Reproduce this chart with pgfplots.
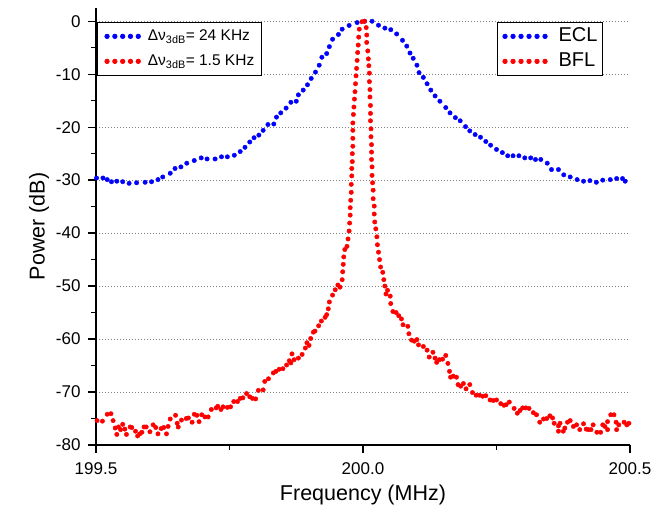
\documentclass[border=0pt]{standalone}
\usepackage{pgfplots}
\pgfplotsset{compat=1.18}
\usepackage{fontspec}
\setmainfont{Liberation Sans}

\pgfplotstableread{
x y
199.501 -29.6
199.513 -29.6
199.521 -29.9
199.529 -30.3
199.539 -30.2
199.550 -30.3
199.562 -30.6
199.576 -30.5
199.592 -30.4
199.604 -30.3
199.616 -29.9
199.625 -29.4
199.639 -28.7
199.648 -27.8
199.659 -27.5
199.670 -26.8
199.684 -26.3
199.697 -25.8
199.708 -26.0
199.723 -26.0
199.735 -25.6
199.746 -25.6
199.759 -25.3
199.770 -24.6
199.779 -23.8
199.788 -22.8
199.796 -22.0
199.805 -21.5
199.813 -20.6
199.822 -19.5
199.833 -19.4
199.838 -18.1
199.846 -17.3
199.856 -16.4
199.865 -15.3
199.875 -15.1
199.879 -13.9
199.888 -13.0
199.896 -12.0
199.903 -10.8
199.911 -9.6
199.918 -8.3
199.923 -6.8
199.932 -6.1
199.937 -4.8
199.943 -3.4
199.954 -2.5
199.961 -1.5
199.974 -0.8
199.989 -0.25
200.003 0
200.017 0
200.029 -0.75
200.041 -1.3
200.052 -1.6
200.063 -2.4
200.074 -3.6
200.082 -4.7
200.088 -6.0
200.094 -7.0
200.101 -8.3
200.105 -9.7
200.113 -10.6
200.120 -11.8
200.127 -13.0
200.135 -14.1
200.144 -15.1
200.155 -16.3
200.163 -17.3
200.173 -18.2
200.182 -18.8
200.192 -19.9
200.200 -20.7
200.210 -21.4
200.220 -21.9
200.230 -22.7
200.239 -23.4
200.250 -24.2
200.261 -24.8
200.271 -25.4
200.281 -25.4
200.292 -25.4
200.303 -25.8
200.314 -25.8
200.323 -26.1
200.333 -26.1
200.345 -26.8
200.353 -28.0
200.366 -28.0
200.376 -29.0
200.388 -29.4
200.401 -29.9
200.413 -30.2
200.425 -30.1
200.437 -30.4
200.449 -30.0
200.463 -29.9
200.475 -29.7
200.486 -29.7
200.491 -30.2
}\ecl

\pgfplotstableread{
x y
199.502 -75.4
199.512 -75.5
199.521 -74.2
199.528 -74.1
199.532 -75.4
199.536 -76.8
199.539 -78.0
199.542 -76.6
199.546 -77.1
199.550 -76.1
199.554 -77.0
199.557 -78.0
199.564 -76.6
199.567 -76.7
199.574 -77.4
199.578 -78.3
199.582 -77.9
199.586 -77.6
199.590 -76.6
199.594 -76.6
199.601 -77.5
199.607 -76.2
199.612 -76.7
199.616 -77.9
199.622 -76.9
199.627 -76.7
199.632 -77.9
199.635 -76.5
199.639 -75.1
199.649 -74.4
199.652 -75.9
199.654 -76.6
199.660 -75.3
199.669 -75.0
199.673 -74.9
199.680 -75.7
199.684 -74.2
199.689 -74.4
199.693 -75.6
199.698 -74.3
199.704 -74.7
199.710 -74.7
199.716 -73.3
199.725 -73.0
199.728 -72.7
199.734 -73.3
199.738 -72.8
199.746 -72.9
199.752 -72.8
199.758 -71.8
199.765 -71.8
199.770 -71.2
199.775 -71.1
199.782 -70.3
199.788 -70.9
199.793 -71.2
199.799 -71.3
199.804 -69.7
199.813 -69.6
199.816 -68.0
199.823 -67.5
199.832 -66.4
199.837 -66.1
199.843 -65.7
199.850 -65.6
199.857 -64.9
199.862 -64.1
199.865 -64.5
199.867 -62.8
199.871 -63.9
199.879 -63.6
199.886 -62.9
199.892 -61.7
199.895 -60.7
199.899 -61.2
199.902 -59.9
199.907 -58.7
199.910 -58.5
199.917 -57.5
199.922 -56.6
199.929 -55.9
199.932 -55.4
199.935 -54.3
199.937 -53.0
199.943 -51.7
199.948 -50.7
199.953 -49.8
199.957 -50.2
199.961 -48.8
199.962 -47.3
199.963 -45.9
199.964 -44.5
199.966 -43.1
199.970 -42.5
199.972 -41.1
199.974 -39.6
199.975 -38.1
199.976 -36.6
199.976 -35.2
199.977 -33.8
199.978 -32.3
199.978 -30.8
199.979 -29.2
199.979 -27.8
199.980 -26.5
199.980 -25.0
199.981 -23.6
199.981 -22.1
199.981 -20.6
199.981 -19.2
199.982 -17.6
199.983 -16.2
199.984 -14.7
199.985 -13.3
199.986 -11.8
199.987 -10.3
199.988 -8.9
199.989 -7.4
199.990 -5.9
199.991 -4.5
199.992 -3.0
199.993 -1.5
199.998 -0.1
200.003 0
200.006 -1.2
200.007 -2.6
200.007 -4.0
200.009 -5.6
200.010 -7.1
200.011 -8.4
200.012 -9.8
200.012 -11.4
200.013 -12.9
200.013 -14.3
200.014 -15.9
200.014 -17.4
200.014 -18.8
200.015 -20.3
200.015 -21.8
200.016 -23.3
200.016 -24.7
200.016 -26.1
200.017 -27.5
200.017 -29.1
200.018 -30.5
200.019 -31.9
200.019 -33.5
200.021 -34.9
200.021 -36.4
200.022 -37.9
200.024 -39.2
200.026 -40.7
200.027 -42.2
200.029 -43.6
200.031 -45.0
200.033 -46.4
200.037 -47.4
200.039 -48.8
200.041 -50.0
200.046 -50.8
200.043 -51.5
200.051 -51.9
200.052 -53.3
200.056 -54.8
200.062 -55.0
200.067 -55.6
200.072 -56.2
200.075 -57.3
200.084 -57.6
200.086 -59.0
200.091 -60.2
200.096 -60.4
200.101 -60.1
200.104 -61.1
200.113 -61.4
200.120 -62.1
200.124 -63.4
200.131 -62.5
200.135 -63.6
200.138 -64.4
200.143 -63.9
200.149 -63.8
200.155 -63.1
200.159 -64.6
200.162 -66.1
200.164 -67.2
200.169 -67.0
200.175 -67.2
200.178 -68.6
200.183 -68.9
200.188 -68.4
200.193 -69.4
200.200 -68.6
200.205 -70.1
200.212 -70.6
200.218 -70.6
200.224 -70.8
200.230 -70.7
200.238 -71.5
200.244 -71.6
200.250 -71.5
200.258 -72.2
200.264 -72.5
200.268 -72.4
200.274 -71.9
200.283 -73.1
200.289 -74.0
200.294 -73.5
200.299 -73.0
200.305 -73.0
200.311 -73.1
200.319 -73.9
200.325 -74.3
200.331 -75.7
200.338 -75.1
200.344 -75.0
200.350 -74.5
200.355 -74.9
200.358 -75.9
200.366 -76.4
200.369 -75.9
200.366 -77.4
200.375 -77.4
200.378 -76.8
200.383 -75.7
200.388 -75.4
200.394 -76.5
200.400 -76.2
200.406 -77.1
200.413 -76.0
200.418 -77.0
200.422 -77.1
200.427 -77.1
200.431 -76.2
200.438 -77.6
200.445 -77.6
200.449 -76.2
200.453 -76.5
200.458 -77.1
200.458 -75.6
200.464 -74.3
200.470 -74.3
200.474 -75.7
200.475 -77.1
200.479 -76.2
200.489 -75.7
200.494 -76.2
200.498 -75.9
}\bfl

\pgfplotsset{
  dotsix/.style={legend image code/.code={
    \foreach \k in {0,...,5} {\fill (\k*8pt,0pt) circle (2.2pt);}}},
  dotfive/.style={legend image code/.code={
    \foreach \k in {0,...,4} {\fill (\k*7.8pt,0pt) circle (2.2pt);}}},
  base/.style={
    width=534pt, height=437pt, scale only axis,
    xmin=199.5, xmax=200.5, ymin=-80, ymax=2.5,
  },
}

\begin{document}
\begin{tikzpicture}
\begin{axis}[
  base,
  axis x line*=bottom, axis y line*=left,
  axis line style={line width=1.3pt},
  tick align=outside,
  major tick length=8pt, minor tick length=5pt,
  tick style={line width=1.3pt, black},
  xtick={199.5,200,200.5}, xticklabels={199.5,200.0,200.5},
  minor xtick={199.75,200.25},
  ytick={-80,-70,-60,-50,-40,-30,-20,-10,0},
  yticklabels={-80,-70,-60,-50,-40,-30,-20,-10,0},
  minor ytick={-75,-65,-55,-45,-35,-25,-15,-5},
  ymajorgrids,
  major grid style={gray, line width=1pt, dash pattern=on 1pt off 2pt},
  ticklabel style={font=\fontsize{17}{20}\selectfont},
  xticklabel style={yshift=-6pt},
  yticklabel style={xshift=-4pt},
  xlabel={Frequency (MHz)}, ylabel={Power (dB)},
  label style={font=\fontsize{21.5}{25}\selectfont},
  xlabel style={yshift=-4pt},
  legend cell align=left,
  legend style={at={(0.751,0.968)}, anchor=north west,
    draw=black, line width=0.8pt,
    font=\fontsize{20}{24}\selectfont,
    nodes={inner sep=0pt, text height=14pt, text depth=4pt},
    column sep=11pt, row sep=7pt,
    inner xsep=5pt, inner ysep=5pt},
]
\addplot[only marks, blue, mark=*, mark size=2.2pt, dotsix] table {\ecl};
\addlegendentry{ECL}
\addplot[only marks, red, mark=*, mark size=2.2pt, dotsix] table {\bfl};
\addlegendentry{BFL}
\coordinate (bl) at (rel axis cs:-0.1798,-0.1487);
\coordinate (tr) at (rel axis cs:1.0712,1.0183);
\end{axis}
\begin{axis}[
  base, hide axis,
  legend cell align=left,
  legend style={at={(0.002,0.968)}, anchor=north west,
    draw=black, line width=0.8pt,
    font=\fontsize{15.5}{18}\selectfont,
    nodes={inner sep=0pt, text height=11pt, text depth=3pt},
    column sep=7pt, row sep=11pt,
    inner xsep=7pt, inner ysep=7pt},
]
\addlegendimage{blue, dotfive}
\addlegendentry{Δν\textsubscript{3dB}= 24 KHz}
\addlegendimage{red, dotfive}
\addlegendentry{Δν\textsubscript{3dB}= 1.5 KHz}
\end{axis}
\path (bl) rectangle (tr);
\end{tikzpicture}
\end{document}
